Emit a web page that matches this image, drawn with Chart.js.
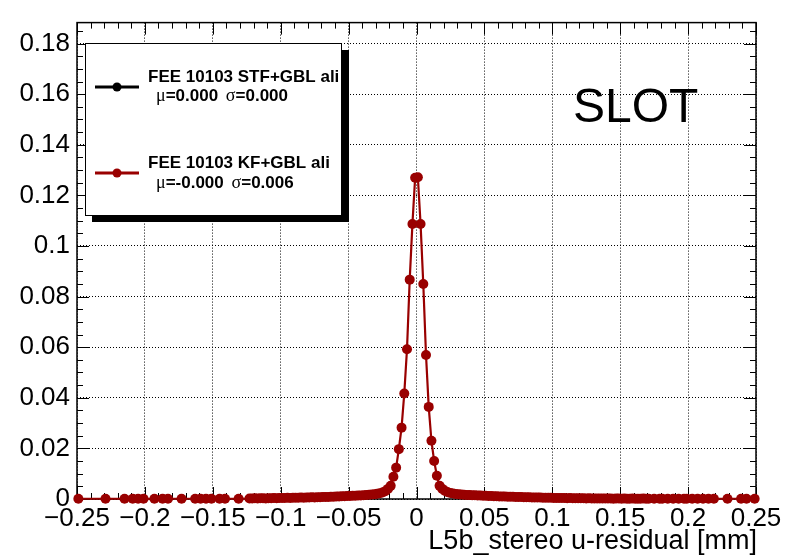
<!DOCTYPE html>
<html>
<head>
<meta charset="utf-8">
<script src="https://cdn.jsdelivr.net/npm/chart.js@4.4.0/dist/chart.umd.min.js"></script>
<style>
body{margin:0;background:#fff}
canvas{display:block}
</style>
</head>
<body>
<canvas id="myChart" width="797" height="555"></canvas>
<script>
// histogram: 250 bins of 0.002 mm, only non-empty bins are drawn (ROOT "P" option)
const binWidth = 0.002
const xTicks = [-0.25, -0.2, -0.15, -0.1, -0.05, 0, 0.05, 0.1, 0.15, 0.2, 0.25]
const yTicks = [0, 0.02, 0.04, 0.06, 0.08, 0.1, 0.12, 0.14, 0.16, 0.18]
const yMax = 0.1883

const leftSparseX = [-0.249,-0.229,-0.215,-0.209,-0.205,-0.201,-0.193,-0.187,-0.183,-0.173,-0.163,-0.159,-0.155,-0.151,-0.145,-0.141,-0.131]
const leftSparseY = [0.0001,0.0001,0.0001,0.0001,0.0001,0.0001,0.0001,0.0001,0.0001,0.0001,0.0001,0.0001,0.0001,0.0001,0.0001,0.0001,0.0001]

// contiguous bins from -0.123 up to 0.171
const coreFirstBin = -0.123
const coreY = [
 0.0002,0.0002,0.0003,0.0002,0.0003,0.0003,0.0002,0.0003,0.0003,0.0004,0.0003,0.0004,
 0.0004,0.0004,0.0005,0.0004,0.0005,0.0005,0.0005,0.0006,0.0005,0.0006,0.0006,0.0007,0.0006,0.0007,0.0007,
 0.0008,0.0008,0.0008,0.0009,0.0009,0.0010,0.0010,0.0011,0.0011,0.0012,0.0012,0.0013,0.0013,0.0014,0.0014,
 0.0015,0.0016,0.0017,0.0018,0.0019,0.0021,0.0023,0.0026,0.0031,0.0040,
 0.0052,0.0088,0.0124,0.0197,0.0282,0.0417,0.0592,0.0867,0.1087,0.1270,
 0.1272,0.1087,0.0850,0.0569,0.0364,0.0230,0.0150,0.0092,0.0052,0.0040,
 0.0032,0.0027,0.0024,0.0022,0.0020,0.0019,0.0018,0.0017,0.0016,
 0.0016,0.0015,0.0015,0.0014,0.0014,0.0013,0.0013,0.0012,0.0012,0.0011,0.0011,0.0010,0.0010,0.0010,0.0009,0.0009,
 0.0009,0.0008,0.0008,0.0008,0.0007,0.0007,0.0007,0.0006,0.0006,0.0006,0.0006,0.0005,0.0005,0.0005,0.0005,0.0004,
 0.0004,0.0004,0.0004,0.0004,0.0003,0.0004,0.0003,0.0003,0.0003,0.0003,0.0003,0.0002,0.0003,0.0002,0.0002,0.0002,0.0002,0.0002,0.0002,
 0.0002,0.0002,0.0001,0.0002,0.0002,0.0001,0.0002,0.0001,0.0001,0.0002,0.0001,0.0001,0.0001,0.0002,0.0001,0.0001
]

const rightSparseX = [0.175,0.179,0.181,0.185,0.189,0.193,0.197,0.199,0.203,0.207,0.211,0.215,0.219,0.229,0.239,0.243,0.249]
const rightSparseY = [0.0001,0.0001,0.0001,0.0001,0.0001,0.0001,0.0001,0.0001,0.0001,0.0001,0.0001,0.0001,0.0001,0.0001,0.0001,0.0001,0.0001]

// STF+GBL histogram is empty
const stfX = []
const stfY = []

let kfPoints = []
for (let i = 0; i < leftSparseX.length; i++) kfPoints.push({x: leftSparseX[i], y: leftSparseY[i]})
for (let i = 0; i < coreY.length; i++) kfPoints.push({x: coreFirstBin + i * binWidth, y: coreY[i]})
for (let i = 0; i < rightSparseX.length; i++) kfPoints.push({x: rightSparseX[i], y: rightSparseY[i]})
let stfPoints = stfX.map((v, i) => ({x: v, y: stfY[i]}))

const red = '#990000'
const sans = "'Liberation Sans', Arial, Helvetica, sans-serif"
const serif = "'Liberation Serif', 'Times New Roman', serif"

function fmt(v) {
  let s = String(Number(v.toFixed(3)))
  return s.replace('-', '\u2212')
}

function seg(ctx, x1, y1, x2, y2) {
  ctx.beginPath(); ctx.moveTo(x1, y1); ctx.lineTo(x2, y2); ctx.stroke()
}

const framePlugin = {
  id: 'frame',
  beforeDatasetsDraw(chart) {
    const ctx = chart.ctx, a = chart.chartArea, x = chart.scales.x, y = chart.scales.y
    ctx.save()
    ctx.strokeStyle = '#000'
    ctx.lineWidth = 1
    for (let k = 0; k <= 50; k++) {
      let px = Math.round(x.getPixelForValue(-0.25 + k * 0.01)) + 0.5
      let len = k % 5 == 0 ? 12 : 6
      seg(ctx, px, a.bottom, px, a.bottom - len)
      seg(ctx, px, a.top, px, a.top + len)
    }
    for (let k = 0; k * 0.005 <= yMax; k++) {
      let py = Math.round(y.getPixelForValue(k * 0.005)) + 0.5
      let len = k % 4 == 0 ? 12 : 6
      seg(ctx, a.left, py, a.left + len, py)
      seg(ctx, a.right, py, a.right - len, py)
    }
    ctx.lineWidth = 1.5
    ctx.strokeRect(a.left, a.top, a.right - a.left, a.bottom - a.top)
    ctx.restore()
  }
}

function legendEntry(ctx, yLine, color, title, yTitle, mu, sigma, yStats) {
  ctx.strokeStyle = color
  ctx.fillStyle = color
  ctx.lineWidth = 3
  seg(ctx, 95, yLine, 139, yLine)
  ctx.beginPath(); ctx.arc(117, yLine, 4.5, 0, Math.PI * 2); ctx.fill()
  ctx.fillStyle = '#000'
  ctx.textAlign = 'left'
  ctx.textBaseline = 'alphabetic'
  ctx.font = 'bold 17px ' + sans
  ctx.fillText(title, 148, yTitle)
  let cx = 156
  ctx.font = '18px ' + serif
  ctx.fillText('\u03bc', cx, yStats); cx += ctx.measureText('\u03bc').width
  ctx.font = 'bold 17px ' + sans
  ctx.fillText('=' + mu, cx, yStats); cx += ctx.measureText('=' + mu + ' ').width + 3
  ctx.font = '18px ' + serif
  ctx.fillText('\u03c3', cx, yStats); cx += ctx.measureText('\u03c3').width
  ctx.font = 'bold 17px ' + sans
  ctx.fillText('=' + sigma, cx, yStats)
}

const textPlugin = {
  id: 'texts',
  afterDraw(chart) {
    const ctx = chart.ctx
    ctx.save()
    // legend shadow + box
    ctx.fillStyle = '#000'
    ctx.fillRect(342, 50, 7, 172)
    ctx.fillRect(92, 216, 257, 6)
    ctx.fillStyle = '#fff'
    ctx.fillRect(85, 43, 257, 173)
    ctx.strokeStyle = '#000'
    ctx.lineWidth = 1
    ctx.strokeRect(85.5, 43.5, 256, 172)
    ctx.save()
    ctx.beginPath(); ctx.rect(86, 44, 255, 171); ctx.clip()
    legendEntry(ctx, 87, '#000', 'FEE 10103 STF+GBL ali', 82, '0.000', '0.000', 101)
    legendEntry(ctx, 173, red, 'FEE 10103 KF+GBL ali', 168, '-0.000', '0.006', 188)
    ctx.restore()

    ctx.fillStyle = '#000'
    ctx.textBaseline = 'alphabetic'
    ctx.font = '48px ' + sans
    ctx.textAlign = 'left'
    ctx.fillText('SLOT', 573, 122)

    ctx.font = '27px ' + sans
    ctx.textAlign = 'right'
    ctx.fillText('L5b_stereo u-residual [mm]', 757, 549)
    ctx.restore()
  }
}

const ctx = document.getElementById('myChart')

new Chart(ctx, {
  type: 'scatter',
  data: {
    datasets: [{
      label: 'FEE 10103 STF+GBL ali',
      data: stfPoints,
      showLine: true,
      borderColor: '#000',
      backgroundColor: '#000'
    }, {
      label: 'FEE 10103 KF+GBL ali',
      data: kfPoints,
      showLine: true,
      borderColor: red,
      backgroundColor: red,
      borderWidth: 2.2,
      pointRadius: 5,
      pointBorderWidth: 0,
      tension: 0,
      clip: 10
    }]
  },
  options: {
    responsive: false,
    animation: false,
    devicePixelRatio: 1,
    layout: {padding: {left: 0, right: 41, top: 22, bottom: 0}},
    plugins: {legend: {display: false}, tooltip: {enabled: false}},
    scales: {
      x: {
        type: 'linear',
        min: -0.25,
        max: 0.25,
        afterFit(s) { s.height = 56 },
        afterBuildTicks(s) { s.ticks = xTicks.map(v => ({value: v})) },
        grid: {color: '#000', lineWidth: 1, drawTicks: false},
        border: {display: false, dash: [1, 2]},
        ticks: {
          color: '#000',
          font: {family: sans, size: 26},
          padding: 4,
          maxRotation: 0,
          autoSkip: false,
          callback: v => fmt(v)
        }
      },
      y: {
        type: 'linear',
        min: 0,
        max: yMax,
        afterFit(s) { s.width = 77 },
        afterBuildTicks(s) { s.ticks = yTicks.map(v => ({value: v})) },
        grid: {color: '#000', lineWidth: 1, drawTicks: false},
        border: {display: false, dash: [1, 2]},
        ticks: {
          color: '#000',
          font: {family: sans, size: 26},
          padding: 7,
          autoSkip: false,
          callback: v => fmt(v)
        }
      }
    }
  },
  plugins: [framePlugin, textPlugin]
})
</script>
</body>
</html>
